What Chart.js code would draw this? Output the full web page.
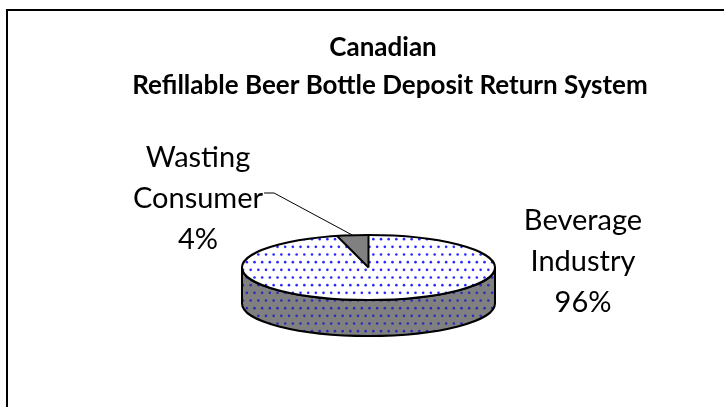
<!DOCTYPE html>
<html>
<head>
<meta charset="utf-8">
<script src="https://cdn.jsdelivr.net/npm/chart.js@4.4.1/dist/chart.umd.min.js"></script>
<style>
  html, body { margin: 0; padding: 0; background: #ffffff; }
  canvas { display: block; }
</style>
</head>
<body>
<canvas id="c" width="724" height="407"></canvas>
<script>
// Chart text and values
const titleLines = ['Canadian', 'Refillable Beer Bottle Deposit Return System'];
const categories = ['Beverage Industry', 'Wasting Consumer'];
const shares = [96, 4];
const labelLines = [['Beverage', 'Industry'], ['Wasting', 'Consumer']];

const FONT_FAMILY = 'Lato, "Open Sans", sans-serif';
const TILT = 32.5 / 126.5;   // vertical squash of the disc
const DEPTH = 36;            // height of the disc's rim

const canvas = document.getElementById('c');
const mainCtx = canvas.getContext('2d');

// Dotted fill: staggered rows of small blue dots
function dotPattern(bg, dot) {
  const t = document.createElement('canvas');
  t.width = 23; t.height = 46;
  const g = t.getContext('2d');
  g.fillStyle = bg;
  g.fillRect(0, 0, t.width, t.height);
  g.fillStyle = dot;
  const step = 23 / 3;
  for (let j = 0; j < 6; j++) {
    for (let i = 0; i < 3; i++) {
      const x = i * step + (j % 2) * step / 2 + 1.5;
      const y = j * step + 1.5;
      g.beginPath();
      g.arc(x, y, 1.3, 0, Math.PI * 2);
      g.fill();
    }
  }
  return mainCtx.createPattern(t, 'repeat');
}

const topPattern = dotPattern('#ffffff', '#2828ff');
const sidePattern = dotPattern('#808080', '#2c2cb8');

// Outer frame and the two-line title
const frame = {
  id: 'frame',
  beforeDraw(chart) {
    const ctx = chart.ctx;
    ctx.save();
    ctx.fillStyle = '#ffffff';
    ctx.fillRect(0, 0, chart.width, chart.height);
    ctx.strokeStyle = '#000000';
    ctx.lineWidth = 2;
    ctx.strokeRect(7, 10, chart.width + 20, chart.height + 20);
    ctx.fillStyle = '#000000';
    ctx.textAlign = 'center';
    ctx.textBaseline = 'alphabetic';
    ctx.font = 'bold 26px ' + FONT_FAMILY;
    ctx.fillText(titleLines[0], 383, 56);
    ctx.fillText(titleLines[1], 390, 94);
    ctx.restore();
  }
};

// Rim of the disc, then squash the top face that Chart.js draws
const disc3d = {
  id: 'disc3d',
  beforeDatasetsDraw(chart) {
    const ctx = chart.ctx;
    const arcs = chart.getDatasetMeta(0).data;
    const { x, y, outerRadius: r } = arcs[0];
    const ry = r * TILT;
    arcs.forEach((arc) => {
      for (let m = -1; m <= 1; m++) {
        const lo = Math.max(arc.startAngle, 2 * Math.PI * m);
        const hi = Math.min(arc.endAngle, 2 * Math.PI * m + Math.PI);
        if (hi <= lo) continue;
        ctx.save();
        ctx.beginPath();
        ctx.ellipse(x, y, r, ry, 0, lo, hi);
        ctx.lineTo(x + r * Math.cos(hi), y + ry * Math.sin(hi) + DEPTH);
        ctx.ellipse(x, y + DEPTH, r, ry, 0, hi, lo, true);
        ctx.closePath();
        ctx.fillStyle = sidePattern;
        ctx.fill();
        ctx.lineWidth = 2;
        ctx.lineJoin = 'round';
        ctx.strokeStyle = '#000000';
        ctx.stroke();
        ctx.restore();
      }
    });
    ctx.save();
    ctx.translate(x, y);
    ctx.scale(1, TILT);
    ctx.translate(-x, -y);
    topPattern.setTransform(new DOMMatrix().translate(x, y).scale(1, 1 / TILT).translate(-x, -y));
  },
  afterDatasetsDraw(chart) {
    const ctx = chart.ctx;
    ctx.restore();
    const arcs = chart.getDatasetMeta(0).data;
    const { x, y, outerRadius: r } = arcs[0];
    const ry = r * TILT;
    ctx.save();
    ctx.lineWidth = 2;
    ctx.strokeStyle = '#000000';
    ctx.lineJoin = 'round';
    ctx.beginPath();
    ctx.ellipse(x, y, r, ry, 0, 0, Math.PI * 2);
    ctx.stroke();
    if (arcs.length > 1) {
      arcs.forEach((arc) => {
        ctx.beginPath();
        ctx.moveTo(x, y);
        ctx.lineTo(x + r * Math.cos(arc.startAngle), y + ry * Math.sin(arc.startAngle));
        ctx.stroke();
      });
    }
    ctx.restore();
  }
};

// Category labels with percentages and a leader line
const labelSpots = [
  { cx: 583, baseline: 230, leader: false },
  { cx: 198, baseline: 167, leader: true }
];
const sliceLabels = {
  id: 'sliceLabels',
  afterDraw(chart) {
    const ctx = chart.ctx;
    const arcs = chart.getDatasetMeta(0).data;
    const values = chart.data.datasets[0].data;
    const total = values.reduce((a, b) => a + b, 0);
    const lineGap = 41;
    ctx.save();
    ctx.fillStyle = '#000000';
    ctx.textAlign = 'center';
    ctx.textBaseline = 'alphabetic';
    ctx.font = '29px ' + FONT_FAMILY;
    values.forEach((v, i) => {
      const spot = labelSpots[i];
      const lines = labelLines[i].concat([Math.round(v / total * 100) + '%']);
      lines.forEach((txt, k) => ctx.fillText(txt, spot.cx, spot.baseline + k * lineGap));
      if (spot.leader) {
        const arc = arcs[i];
        const mid = (arc.startAngle + arc.endAngle) / 2;
        const ex = arc.x + arc.outerRadius * Math.cos(mid);
        const ey = arc.y + arc.outerRadius * TILT * Math.sin(mid);
        const w = ctx.measureText(lines[1]).width;
        const sx = spot.cx + w / 2 + 1;
        const sy = spot.baseline + lineGap - 15;
        ctx.beginPath();
        ctx.lineWidth = 1;
        ctx.strokeStyle = '#000000';
        ctx.moveTo(sx, sy);
        ctx.lineTo(sx + 10, sy);
        ctx.lineTo(ex, ey);
        ctx.stroke();
      }
    });
    ctx.restore();
  }
};

new Chart(canvas, {
  type: 'pie',
  data: {
    labels: categories,
    datasets: [{
      data: shares,
      backgroundColor: [topPattern, '#808080'],
      borderWidth: 0,
      hoverOffset: 0,
      radius: 126.5
    }]
  },
  options: {
    responsive: false,
    animation: false,
    devicePixelRatio: 1,
    events: [],
    radius: 126.5,
    layout: { padding: { left: 13, top: 128, right: 0, bottom: 0 } },
    plugins: {
      legend: { display: false },
      tooltip: { enabled: false },
      title: { display: false }
    }
  },
  plugins: [frame, disc3d, sliceLabels]
});
</script>
</body>
</html>
